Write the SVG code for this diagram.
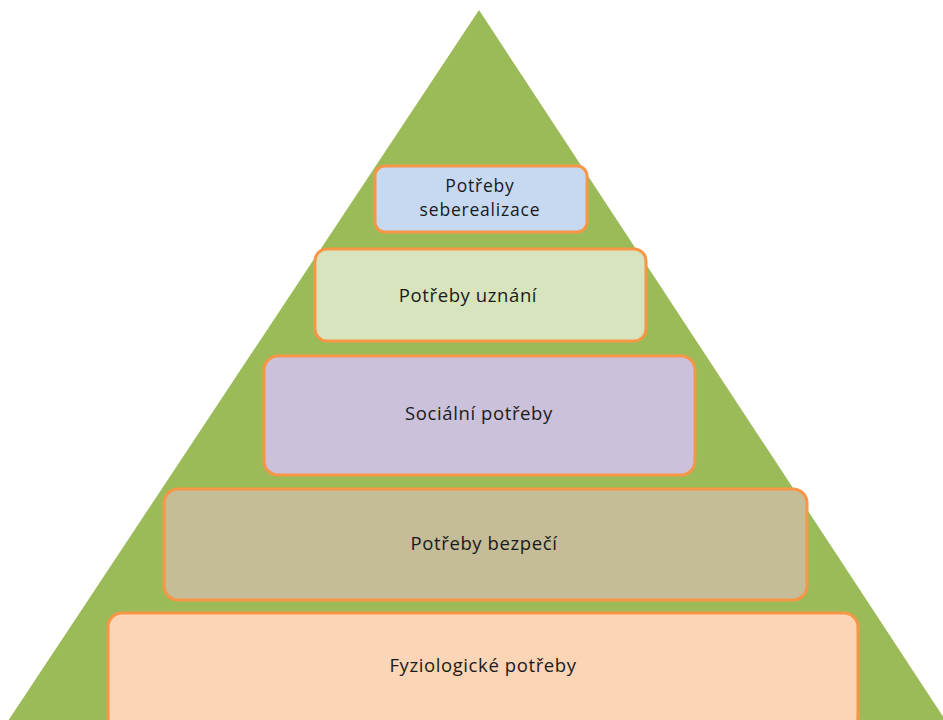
<svg xmlns="http://www.w3.org/2000/svg" width="943" height="720" viewBox="0 0 943 720">
<style>
.box{stroke:#f79646;stroke-width:3}
.t{font-family:"Open Sans","Liberation Sans",sans-serif;font-size:18.5px;letter-spacing:0.6px;fill:#1a1a1a;text-anchor:middle}
.s{font-size:17.5px;letter-spacing:0.8px}
</style>
<rect width="943" height="720" fill="#ffffff"/>
<polygon id="pyramid" points="479,10 6,724 948,724" fill="#9bbb59"/>
<g id="connectors"></g>
<g id="n5">
<rect class="box" x="108" y="613" width="750" height="118" rx="14" fill="#fbd5b5"/>
<text class="t" x="483" y="672">Fyziologické potřeby</text>
</g>
<g id="n4">
<rect class="box" x="164" y="489" width="643" height="111" rx="14" fill="#c4bd97"/>
<text class="t" x="484" y="550">Potřeby bezpečí</text>
</g>
<g id="n3">
<rect class="box" x="264" y="356" width="431" height="119" rx="14" fill="#ccc1da"/>
<text class="t" x="479" y="420">Sociální potřeby</text>
</g>
<g id="n2">
<rect class="box" x="315" y="249" width="331" height="92" rx="12" fill="#d7e4bd"/>
<text class="t" x="468" y="302">Potřeby uznání</text>
</g>
<g id="n1">
<rect class="box" x="375" y="166" width="212" height="66" rx="10" fill="#c6d9f1"/>
<text class="t s" x="480" y="192">Potřeby</text>
<text class="t s" x="480" y="216">seberealizace</text>
</g>
</svg>
